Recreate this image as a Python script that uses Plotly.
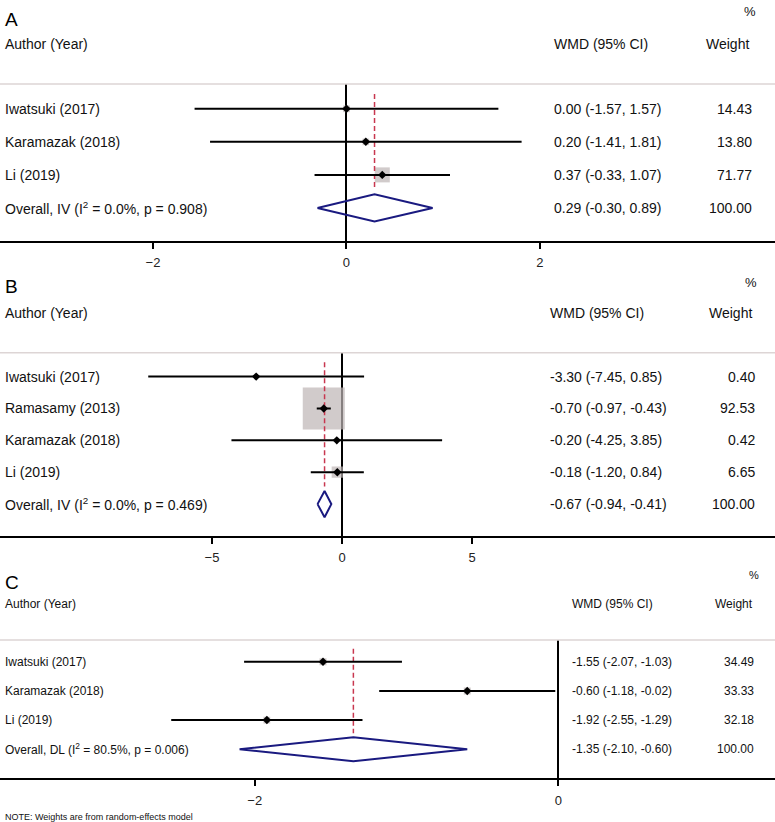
import math
import plotly.graph_objects as go

# ---------------- data ----------------
A_studies = ["Iwatsuki (2017)", "Karamazak (2018)", "Li (2019)"]
A_est = [0.00, 0.20, 0.37]
A_lo = [-1.57, -1.41, -0.33]
A_hi = [1.57, 1.81, 1.07]
A_weight = [14.43, 13.80, 71.77]
A_overall = [0.29, -0.30, 0.89]          # estimate, lower, upper
A_overall_label = "Overall, IV (I<sup>2</sup> = 0.0%, p = 0.908)"
A_ticks = [-2, 0, 2]

B_studies = ["Iwatsuki (2017)", "Ramasamy (2013)", "Karamazak (2018)", "Li (2019)"]
B_est = [-3.30, -0.70, -0.20, -0.18]
B_lo = [-7.45, -0.97, -4.25, -1.20]
B_hi = [0.85, -0.43, 3.85, 0.84]
B_weight = [0.40, 92.53, 0.42, 6.65]
B_overall = [-0.67, -0.94, -0.41]
B_overall_label = "Overall, IV (I<sup>2</sup> = 0.0%, p = 0.469)"
B_ticks = [-5, 0, 5]

C_studies = ["Iwatsuki (2017)", "Karamazak (2018)", "Li (2019)"]
C_est = [-1.55, -0.60, -1.92]
C_lo = [-2.07, -1.18, -2.55]
C_hi = [-1.03, -0.02, -1.29]
C_weight = [34.49, 33.33, 32.18]
C_overall = [-1.35, -2.10, -0.60]
C_overall_label = "Overall, DL (I<sup>2</sup> = 80.5%, p = 0.006)"
C_ticks = [-2, 0]

header_label = "Author (Year)"
header_ci = "WMD (95% CI)"
header_weight = "Weight"
header_pct = "%"
note_text = "NOTE: Weights are from random-effects model"

# ---------------- styling / layout ----------------
W, H = 775, 822
FONT = "Arial, 'Liberation Sans', sans-serif"
TXT = "#111111"
BOX = "#bdb5b5"
RED = "#c8374f"
NAVY = "#1a1a80"
SEP = "#ddd5d5"
PAD = 2  # annotation inner padding compensation

panels = [
    dict(letter="A", studies=A_studies, est=A_est, lo=A_lo, hi=A_hi, w=A_weight,
         ov=A_overall, ovl=A_overall_label, ticks=A_ticks,
         top=84, bottom=241, xr=[-3.581, 4.429], letter_y=19, header_y=44, pct_y=11,
         fs=14, ci_x=554, w_x=751.7, hw_x=749.3, pct_x=756, box_k=1.77),
    dict(letter="B", studies=B_studies, est=B_est, lo=B_lo, hi=B_hi, w=B_weight,
         ov=B_overall, ovl=B_overall_label, ticks=B_ticks,
         top=352.7, bottom=536, xr=[-13.15, 16.65], letter_y=287, header_y=313, pct_y=282,
         fs=14, ci_x=550, w_x=755, hw_x=751.7, pct_x=757, box_k=4.37),
    dict(letter="C", studies=C_studies, est=C_est, lo=C_lo, hi=C_hi, w=C_weight,
         ov=C_overall, ovl=C_overall_label, ticks=C_ticks,
         top=640, bottom=778.3, xr=[-3.678, 1.4275], letter_y=582, header_y=604, pct_y=575,
         fs=12, ci_x=572.3, w_x=754.3, hw_x=752.7, pct_x=759, box_k=1.2),
]

def py(px):
    return 1 - px / H

def pxl(px):   # left-anchored text
    return (px - PAD) / W

def pxr(px):   # right-anchored text
    return (px + PAD) / W

fig = go.Figure()
annotations = []
shapes = []
layout = {}

for k, p in enumerate(panels):
    sfx = "" if k == 0 else str(k + 1)
    xa, ya = "x" + sfx, "y" + sfx
    n = len(p["studies"])
    rows = list(range(1, n + 1))
    ov_row = n + 1

    # weight boxes
    fig.add_trace(go.Scatter(
        x=p["est"], y=rows, mode="markers", xaxis=xa, yaxis=ya,
        marker=dict(symbol="square", color=BOX, size=[p["box_k"] * math.sqrt(w) for w in p["w"]],
                    line=dict(width=0)),
        hoverinfo="skip", showlegend=False))
    # pooled estimate dashed line
    fig.add_trace(go.Scatter(
        x=[p["ov"][0], p["ov"][0]], y=[0.55, ov_row - 0.55], mode="lines", xaxis=xa, yaxis=ya,
        line=dict(color=RED, width=1.5, dash="5px,3px"), hoverinfo="skip", showlegend=False))
    # CI lines
    cx, cy = [], []
    for lo, hi, r in zip(p["lo"], p["hi"], rows):
        cx += [lo, hi, None]
        cy += [r, r, None]
    fig.add_trace(go.Scatter(
        x=cx, y=cy, mode="lines", xaxis=xa, yaxis=ya,
        line=dict(color="black", width=2), hoverinfo="skip", showlegend=False))
    # point estimates
    fig.add_trace(go.Scatter(
        x=p["est"], y=rows, mode="markers", xaxis=xa, yaxis=ya,
        marker=dict(symbol="diamond", color="black", size=6.5, line=dict(width=0)),
        hoverinfo="skip", showlegend=False))
    # overall diamond
    e, lo, hi = p["ov"]
    hh = 0.41
    fig.add_trace(go.Scatter(
        x=[lo, e, hi, e, lo], y=[ov_row, ov_row - hh, ov_row, ov_row + hh, ov_row],
        mode="lines", xaxis=xa, yaxis=ya,
        line=dict(color=NAVY, width=2), hoverinfo="skip", showlegend=False))

    layout["xaxis" + sfx] = dict(
        domain=[0, 1], anchor=ya, range=p["xr"], showgrid=False,
        zeroline=True, zerolinecolor="black", zerolinewidth=1.5,
        showline=True, linecolor="black", linewidth=1.5,
        ticks="outside", ticklen=6, tickwidth=1.5, tickcolor="black",
        tickvals=p["ticks"], tickfont=dict(size=13, color="#222222", family=FONT),
        ticklabelstandoff=3, fixedrange=True)
    layout["yaxis" + sfx] = dict(
        domain=[py(p["bottom"]), py(p["top"])], anchor=xa, range=[ov_row + 1, 0.25],
        showgrid=False, zeroline=False, showline=False, showticklabels=False,
        ticks="", fixedrange=True)

    # separator line at top of plot region
    shapes.append(dict(type="line", xref="paper", yref=ya + " domain", x0=0, x1=1, y0=1, y1=1,
                       line=dict(color=SEP, width=1.5)))

    fs = p["fs"]
    # panel letter
    annotations.append(dict(text=p["letter"], xref="paper", yref="paper", x=pxl(5), y=py(p["letter_y"]),
                            xanchor="left", yanchor="middle", showarrow=False,
                            font=dict(size=19, color="black", family=FONT)))
    # headers
    annotations.append(dict(text=header_label, xref="paper", yref="paper", x=pxl(5), y=py(p["header_y"]),
                            xanchor="left", yanchor="middle", showarrow=False,
                            font=dict(size=fs, color=TXT, family=FONT)))
    annotations.append(dict(text=header_ci, xref="paper", yref="paper", x=pxl(p["ci_x"]), y=py(p["header_y"]),
                            xanchor="left", yanchor="middle", showarrow=False,
                            font=dict(size=fs, color=TXT, family=FONT)))
    annotations.append(dict(text=header_weight, xref="paper", yref="paper", x=pxr(p["hw_x"]), y=py(p["header_y"]),
                            xanchor="right", yanchor="middle", showarrow=False,
                            font=dict(size=fs, color=TXT, family=FONT)))
    annotations.append(dict(text=header_pct, xref="paper", yref="paper", x=pxr(p["pct_x"]), y=py(p["pct_y"]),
                            xanchor="right", yanchor="middle", showarrow=False,
                            font=dict(size=fs - 1, color=TXT, family=FONT)))

    labels = p["studies"] + [p["ovl"]]
    ests = p["est"] + [p["ov"][0]]
    los = p["lo"] + [p["ov"][1]]
    his = p["hi"] + [p["ov"][2]]
    wts = p["w"] + [100.0]
    for r, (lab, es, l, h, wt) in enumerate(zip(labels, ests, los, his, wts), start=1):
        annotations.append(dict(text=lab, xref="paper", yref=ya, x=pxl(5), y=r,
                                xanchor="left", yanchor="middle", showarrow=False,
                                font=dict(size=fs, color=TXT, family=FONT)))
        annotations.append(dict(text=f"{es:.2f} ({l:.2f}, {h:.2f})", xref="paper", yref=ya,
                                x=pxl(p["ci_x"]), y=r, xanchor="left", yanchor="middle", showarrow=False,
                                font=dict(size=fs, color=TXT, family=FONT)))
        annotations.append(dict(text=f"{wt:.2f}", xref="paper", yref=ya,
                                x=pxr(p["w_x"]), y=r, xanchor="right", yanchor="middle", showarrow=False,
                                font=dict(size=fs, color=TXT, family=FONT)))

annotations.append(dict(text=note_text, xref="paper", yref="paper", x=pxl(5), y=py(816.5),
                        xanchor="left", yanchor="middle", showarrow=False,
                        font=dict(size=9, color=TXT, family=FONT)))

fig.update_layout(
    width=W, height=H, autosize=False,
    margin=dict(l=0, r=0, t=0, b=0, pad=0),
    paper_bgcolor="white", plot_bgcolor="white",
    font=dict(family=FONT, color=TXT),
    showlegend=False,
    annotations=annotations, shapes=shapes,
    **layout)

fig.write_html("out.html", config={"displayModeBar": False},
               post_script="document.body.style.margin='0';document.body.style.padding='0';")
